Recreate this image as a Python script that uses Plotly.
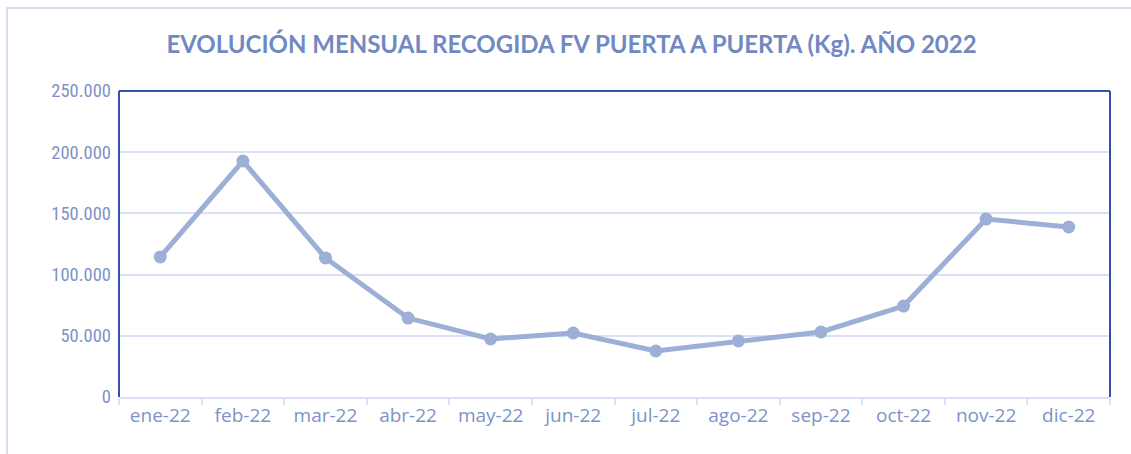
import plotly.graph_objects as go

months = ["ene-22", "feb-22", "mar-22", "abr-22", "may-22", "jun-22",
          "jul-22", "ago-22", "sep-22", "oct-22", "nov-22", "dic-22"]
kg = [114400, 192800, 113600, 64500, 47400, 52300,
      37600, 45800, 53100, 74300, 145400, 138900]
y_ticks = [0, 50000, 100000, 150000, 200000, 250000]
y_tick_labels = ["0", "50.000", "100.000", "150.000", "200.000", "250.000"]

W, H = 1131, 454
L, R, T, B = 119, 21, 91, 57
pw, ph = W - L - R, H - T - B

def px(x):
    return (x - L) / pw

def py(y):
    return (H - B - y) / ph

fig = go.Figure()
fig.add_trace(go.Scatter(
    x=months, y=kg, mode="lines+markers",
    line=dict(color="#9DAFD6", width=5),
    marker=dict(color="#9DAFD6", size=13),
    showlegend=False, hoverinfo="skip",
))

fig.update_layout(
    width=W, height=H,
    margin=dict(l=L, r=R, t=T, b=B, autoexpand=False),
    paper_bgcolor="white", plot_bgcolor="white",
    title=dict(
        text="<b>EVOLUCIÓN MENSUAL RECOGIDA FV PUERTA A PUERTA (Kg). AÑO 2022</b>",
        x=(165 + 978) / 2 / W, xref="container", xanchor="center",
        y=1 - 45 / H, yanchor="middle", yref="container",
        font=dict(family="Lato, sans-serif", size=24, color="#7189C2"),
    ),
    xaxis=dict(
        tickfont=dict(family="Open Sans, sans-serif", size=19, color="#7D93C7"),
        showgrid=False, zeroline=False,
        showline=True, linecolor="#D9E1F2", linewidth=2,
        ticks="outside", tickson="boundaries", ticklen=6, tickcolor="#D9E1F2", tickwidth=2,
        range=[-0.5, 11.5],
    ),
    yaxis=dict(
        tickfont=dict(family="Roboto Condensed, Liberation Sans Narrow, Arial Narrow, sans-serif",
                      size=18.5, color="#7D93C7"),
        range=[0, 250000],
        tickvals=y_ticks, ticktext=y_tick_labels,
        showgrid=True, gridcolor="#D9E1F2", gridwidth=2,
        zeroline=False, showline=False, ticks="", ticklen=0,
        ticklabelstandoff=7,
    ),
    shapes=[
        dict(type="rect", xref="paper", yref="paper",
             x0=px(7), x1=px(1140), y0=py(470), y1=py(8),
             line=dict(color="#D9DEEE", width=2), layer="below"),
        dict(type="line", xref="paper", yref="paper", x0=0, x1=1, y0=1, y1=1,
             line=dict(color="#2F55A8", width=2)),
        dict(type="line", xref="paper", yref="paper", x0=0, x1=0, y0=0, y1=1,
             line=dict(color="#2F55A8", width=2)),
        dict(type="line", xref="paper", yref="paper", x0=1, x1=1, y0=0, y1=1,
             line=dict(color="#2F55A8", width=2)),
    ],
)

fig.write_html(
    "out.html",
    config={"displayModeBar": False, "staticPlot": True},
    post_script="document.body.style.margin='0';document.body.style.padding='0';document.body.style.overflow='hidden';",
)
